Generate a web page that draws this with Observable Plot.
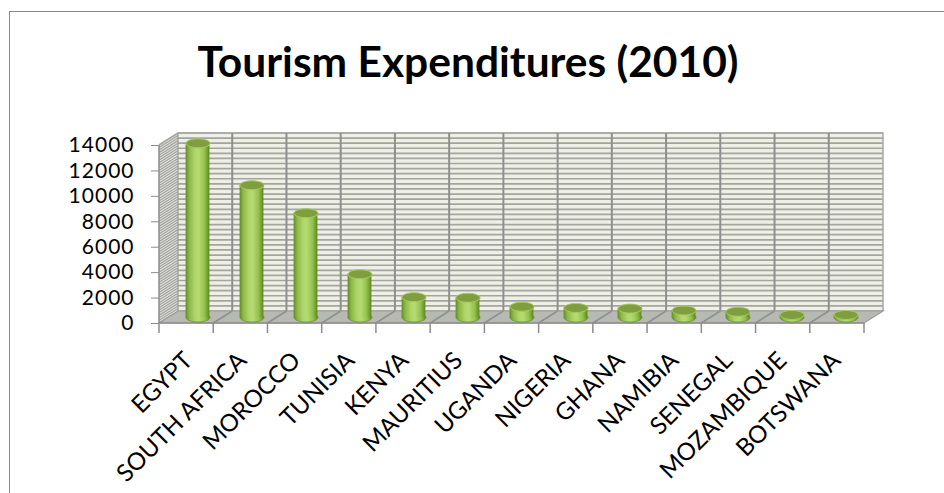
<!DOCTYPE html>
<html><head><meta charset="utf-8">
<script src="https://cdn.jsdelivr.net/npm/d3@7"></script>
<script src="https://cdn.jsdelivr.net/npm/@observablehq/plot@0.6"></script>
<style>
html,body{margin:0;padding:0;background:#fff;width:944px;height:493px;overflow:hidden;}
#frame{position:absolute;left:9px;top:11px;width:940px;height:490px;border-left:1.5px solid #8a8a8a;border-top:1.5px solid #8a8a8a;}
#title{position:absolute;left:0;top:40px;width:936px;text-align:center;font-family:Lato,sans-serif;font-weight:bold;font-size:42.5px;line-height:42px;color:#000;}
#chart{position:absolute;left:0;top:100px;}
</style></head><body>
<div id="frame"></div>
<div id="title"></div>
<div id="chart"></div>
<script>
const titleText = "Tourism Expenditures (2010)";
const countries = ["EGYPT","SOUTH AFRICA","MOROCCO","TUNISIA","KENYA","MAURITIUS","UGANDA","NIGERIA","GHANA","NAMIBIA","SENEGAL","MOZAMBIQUE","BOTSWANA"];
const values = [13700,10400,8200,3400,1600,1550,850,750,700,550,450,200,200];
const yTicks = [0,2000,4000,6000,8000,10000,12000,14000];
const yMax = 14000;
const minorStep = 400;

const data = countries.map((c, i) => ({country: c, value: values[i]}));
document.getElementById("title").textContent = titleText;

const DX = 19, DY = -12;        // depth offset of back wall
const MX = DX / 2, MY = DY / 2; // mid-depth offset of cylinders

function frame3d(index, scales, vals, dims) {
  const y = scales.y;
  const x0 = dims.marginLeft, x1 = dims.width - dims.marginRight;
  const bw = (x1 - x0) / countries.length;
  const yb = y(0), yt = y(yMax);
  const g = d3.create("svg:g");
  const defs = g.append("defs");
  const grad = defs.append("linearGradient").attr("id", "cyl").attr("x1", 0).attr("x2", 1).attr("y1", 0).attr("y2", 0);
  [[0,"#638a26"],[0.15,"#8cb847"],[0.4,"#b0d66a"],[0.55,"#b6da72"],[0.8,"#93c04c"],[1,"#5e8522"]]
    .forEach(([o,c]) => grad.append("stop").attr("offset", o).attr("stop-color", c));
  // back wall
  g.append("rect").attr("x", x0 + DX).attr("y", yt + DY).attr("width", x1 - x0).attr("height", yb - yt)
    .attr("fill", "#eef0e6");
  // minor gridlines on back wall
  for (let v = 0; v <= yMax; v += minorStep) {
    g.append("line").attr("x1", x0 + DX).attr("x2", x1 + DX).attr("y1", y(v) + DY).attr("y2", y(v) + DY)
      .attr("stroke", "#a4a5a1").attr("stroke-width", 1.7);
  }
  // side wall
  g.append("path").attr("d", `M${x0},${yb}L${x0},${yt}L${x0+DX},${yt+DY}L${x0+DX},${yb+DY}Z`).attr("fill", "#e2e3de");
  for (let v = 0; v <= yMax; v += minorStep / 2) {
    g.append("line").attr("x1", x0).attr("y1", y(v)).attr("x2", x0 + DX).attr("y2", y(v) + DY)
      .attr("stroke", "#a3a4a0").attr("stroke-width", 1.2);
  }
  // back wall outline
  g.append("path").attr("d", `M${x0},${yt}L${x0+DX},${yt+DY}L${x1+DX},${yt+DY}L${x1+DX},${yb+DY}`)
    .attr("fill", "none").attr("stroke", "#a8a8a8").attr("stroke-width", 1.5);
  // vertical dividers on back wall
  for (let i = 1; i < countries.length; i++) {
    const xx = x0 + i * bw + DX;
    g.append("line").attr("x1", xx).attr("x2", xx).attr("y1", yt + DY).attr("y2", yb + DY)
      .attr("stroke", "#8f8f8f").attr("stroke-width", 2);
  }
  g.append("line").attr("x1", x0 + DX).attr("x2", x0 + DX).attr("y1", yt + DY).attr("y2", yb + DY)
    .attr("stroke", "#9a9a9a").attr("stroke-width", 1.2);
  // floor
  g.append("path").attr("d", `M${x0},${yb}L${x1},${yb}L${x1+DX},${yb+DY}L${x0+DX},${yb+DY}Z`)
    .attr("fill", "#b7b9b3").attr("stroke", "#9c9c9a").attr("stroke-width", 1.2);
  for (let i = 1; i < countries.length; i++) {
    const xx = x0 + i * bw;
    g.append("line").attr("x1", xx).attr("y1", yb).attr("x2", xx + DX).attr("y2", yb + DY)
      .attr("stroke", "#8f8f8f").attr("stroke-width", 1.5);
  }
  // front y axis line and x ticks
  g.append("line").attr("x1", x0).attr("x2", x0).attr("y1", yt).attr("y2", yb).attr("stroke", "#8c8c8c").attr("stroke-width", 1.5);
  g.append("line").attr("x1", x0).attr("x2", x1).attr("y1", yb).attr("y2", yb).attr("stroke", "#8c8c8c").attr("stroke-width", 1.5);
  for (let i = 0; i <= countries.length; i++) {
    const xx = x0 + i * bw;
    g.append("line").attr("x1", xx).attr("x2", xx).attr("y1", yb).attr("y2", yb + 10)
      .attr("stroke", "#8c8c8c").attr("stroke-width", 1.5);
  }
  return g.node();
}

const ellipse = {
  draw(ctx) {
    const rx = 12, ry = 4.5, k = 0.5523;
    ctx.moveTo(rx, 0);
    ctx.bezierCurveTo(rx, ry*k, rx*k, ry, 0, ry);
    ctx.bezierCurveTo(-rx*k, ry, -rx, ry*k, -rx, 0);
    ctx.bezierCurveTo(-rx, -ry*k, -rx*k, -ry, 0, -ry);
    ctx.bezierCurveTo(rx*k, -ry, rx, -ry*k, rx, 0);
    ctx.closePath();
  }
};

const chart = Plot.plot({
  width: 944,
  height: 393,
  marginLeft: 159,
  marginRight: 80,
  marginTop: 45,
  marginBottom: 170,
  style: {fontFamily: "Lato, sans-serif", color: "#000", background: "transparent", overflow: "visible"},
  x: {type: "band", domain: countries, padding: 0, axis: null},
  y: {domain: [0, yMax], axis: null},
  marks: [
    frame3d,
    Plot.dot(data, {x: "country", y: () => 0, dx: MX, dy: MY, symbol: ellipse, r: 5, fill: "url(#cyl)", stroke: "#6f952f", strokeWidth: 0.8}),
    Plot.rectY(data, {x: "country", y: "value", dx: MX, dy: MY, insetLeft: 15.1, insetRight: 15.1, fill: "url(#cyl)"}),
    Plot.dot(data, {x: "country", y: "value", dx: MX, dy: MY, symbol: ellipse, r: 5, fill: "#7f9f3e", stroke: "#a9cb62", strokeWidth: 1}),
    Plot.axisY(yTicks, {tickSize: 8, tickPadding: 17, fontSize: 21, stroke: "#8c8c8c", fill: "#000", tickFormat: d => String(d), label: null}),
    Plot.text(countries, {x: d => d, frameAnchor: "bottom", dx: 0, dy: 33, rotate: -45, textAnchor: "end", lineAnchor: "middle", fontSize: 24, fill: "#000"})
  ]
});
d3.select(chart).selectAll("g[aria-label='y-axis tick label'] text").style("letter-spacing", "1px");
document.getElementById("chart").appendChild(chart);
</script>
</body></html>
